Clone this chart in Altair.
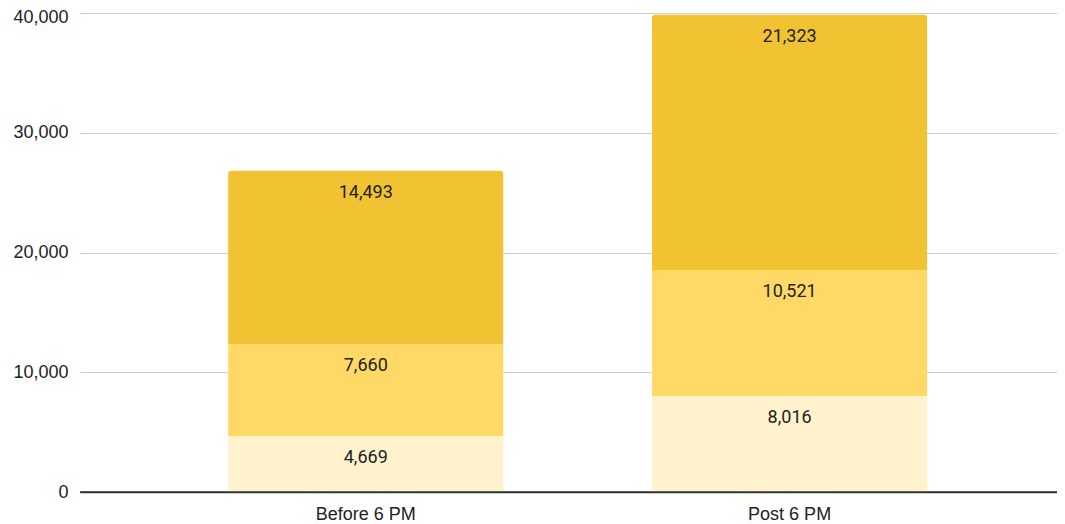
import altair as alt
import pandas as pd

categories = ["Before 6 PM", "Post 6 PM"]
series = ["Segment 1", "Segment 2", "Segment 3"]
seg1 = [4669, 8016]
seg2 = [7660, 10521]
seg3 = [14493, 21323]
colors = ["#fff2cc", "#ffd966", "#f1c232"]

rows = []
for i, c in enumerate(categories):
    for k, (s, vals) in enumerate(zip(series, [seg1, seg2, seg3])):
        rows.append({"cat": c, "series": s, "order": k, "value": vals[i]})
df = pd.DataFrame(rows)

FONT = "Roboto"
AXFONT = "Liberation Sans"
FS = 18

base = alt.Chart(df).transform_stack(
    stack="value", groupby=["cat"], as_=["v0", "v1"],
    sort=[alt.SortField("order", order="ascending")]
)

x = alt.X("cat:N", sort=categories, title=None,
          scale=alt.Scale(paddingInner=0.351, paddingOuter=0.328, align=0.533),
          axis=alt.Axis(labelAngle=0, labelFont=AXFONT, labelFontSize=FS, labelColor="#222222",
                        tickSize=0, labelPadding=13, domainColor="#333333", domainWidth=1.5,
                        grid=False))
y = alt.Y("v0:Q", title=None,
          scale=alt.Scale(domain=[0, 40000], nice=False),
          axis=alt.Axis(values=[0, 10000, 20000, 30000, 40000], format=",.0f",
                        labelFont=AXFONT, labelFontSize=FS, labelColor="#222222",
                        labelOffset={"condition": {"test": "datum.value == 40000", "value": 4}, "value": 0},
                        tickSize=0, labelPadding=12, domain=False,
                        gridColor="#cccccc", gridWidth=1))
color = alt.Color("series:N", scale=alt.Scale(domain=series, range=colors), legend=None)

bars = base.transform_filter(alt.datum.order < 2).mark_bar().encode(
    x=x, y=y, y2="v1:Q", color=color
)
topbars = base.transform_filter(alt.datum.order == 2).mark_bar(
    cornerRadiusTopLeft=3, cornerRadiusTopRight=3
).encode(x=x, y=y, y2="v1:Q", color=color)

labels = base.mark_text(font=FONT, fontSize=FS, color="#222222", baseline="middle", dy=22).encode(
    x=alt.X("cat:N", sort=categories),
    y=alt.Y("v1:Q"),
    text=alt.Text("value:Q", format=",.0f"),
)

baseline = alt.Chart(pd.DataFrame({"y": [0]})).mark_rule(color="#333333", strokeWidth=1.5).encode(
    y=alt.Y("y:Q")
)

chart = alt.layer(bars, topbars, labels, baseline).properties(
    width=977, height=479,
    autosize=alt.AutoSizeParams(type="none"),
    padding={"left": 72, "top": 5, "right": 0, "bottom": 31},
).configure_view(stroke=None)

chart.save("out.html", embed_options={"renderer": "svg", "actions": False})
